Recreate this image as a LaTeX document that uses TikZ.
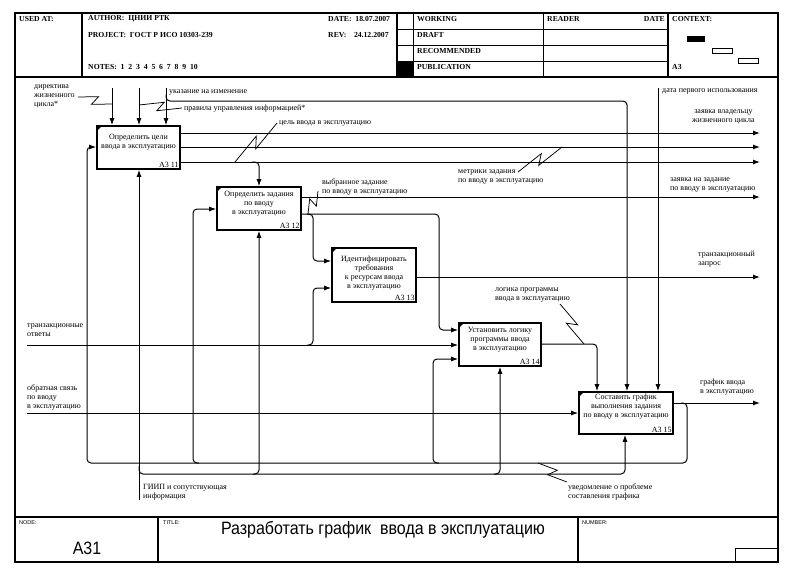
\documentclass[tikz,border=0pt]{standalone}
\usepackage{fontspec}
\setmainfont{Liberation Serif}
\newfontfamily\sansf{Liberation Sans}
\usetikzlibrary{arrows.meta,calc}
\newcommand{\squig}[2]{\draw[sq] (#1) -- ($(#1)!0.58!(#2)!4.5pt!90:(#2)$) -- ($(#1)!0.42!(#2)!4.5pt!-90:(#2)$) -- (#2);}
\newcommand{\cornermark}[1]{\fill ([shift={(0.8pt,-0.8pt)}]#1.north west) -- ++(5pt,0) -- ++(-5pt,-5pt) -- cycle;}
\begin{document}
\begin{tikzpicture}[x=1pt,y=-1pt,
  frame/.style={line width=1.3pt},
  thinl/.style={line width=0.6pt},
  hdr/.style={font=\bfseries\fontsize{7.7}{8}\selectfont, inner sep=0, anchor=west},
  ftr/.style={font=\sansf\fontsize{5.5}{6}\selectfont, inner sep=0, anchor=west},
  lbl/.style={font=\fontsize{8}{8.7}\selectfont, inner sep=0, anchor=north west, align=left, execute at begin node=\strut},
  box/.style={draw, line width=1.7pt, inner sep=0},
  boxtxt/.style={font=\fontsize{8}{9}\selectfont, inner sep=0, anchor=north, align=center, execute at begin node=\strut},
  num/.style={font=\fontsize{8}{9}\selectfont, inner sep=0, anchor=south east},
  arr/.style={line width=1pt, rounded corners=4pt, -{Latex[length=7pt,width=5pt]}},
  sq/.style={line width=0.75pt}]
\useasboundingbox (0,0) rectangle (790,574);
\fill[white] (0,0) rectangle (790,574);
% ---------- frame ----------
\draw[frame] (15,13) rectangle (778,562);
\draw[frame] (15,77) -- (778,77);
\draw[frame] (15,517) -- (778,517);
% header columns
\draw[frame] (82,13) -- (82,77);
\draw[frame] (397,13) -- (397,77);
\draw[thinl] (413,13) -- (413,77);
\draw[thinl] (543,13) -- (543,77);
\draw[frame] (668,13) -- (668,77);
\draw[thinl] (397,29) -- (668,29);
\draw[thinl] (397,45) -- (668,45);
\draw[thinl] (397,61) -- (668,61);
\fill (397,61) rectangle (413,77);
% header texts
\node[hdr] (usedat) at (19,19) {USED AT:};
\node[hdr] (author) at (88,19) {AUTHOR:\ \ ЦНИИ РТК};
\node[hdr] (date) at (328,19) {DATE:\ \ 18.07.2007};
\node[hdr] (project) at (88,35) {PROJECT:\ \ ГОСТ Р ИСО 10303-239};
\node[hdr] (rev) at (328,35) {REV:\ \ \ \ 24.12.2007};
\node[hdr] (notes) at (88,67) {NOTES:\ \ 1\ \ 2\ \ 3\ \ 4\ \ 5\ \ 6\ \ 7\ \ 8\ \ 9\ \ 10};
\node[hdr] (working) at (417,19) {WORKING};
\node[hdr] (draft) at (417,35) {DRAFT};
\node[hdr] (recom) at (417,51) {RECOMMENDED};
\node[hdr] (publ) at (417,67) {PUBLICATION};
\node[hdr] (reader) at (547,19) {READER};
\node[hdr, anchor=east] (rdate) at (665,19) {DATE};
\node[hdr] (context) at (672,19) {CONTEXT:};
\node[hdr] (ctxa) at (672,67) {A3};
\fill (687,36) rectangle (705,42);
\draw[line width=0.8pt] (712,48) rectangle (732,53);
\draw[line width=0.8pt] (738,58) rectangle (758,63);
% footer
\draw[frame] (158,517) -- (158,562);
\draw[frame] (578,517) -- (578,562);
\draw[thinl] (735,562) -- (735,548) -- (778,548);
\node[ftr] (node) at (19,523) {NODE:};
\node[ftr] (title) at (163,523) {TITLE:};
\node[ftr] (number) at (582,523) {NUMBER:};
\node[font=\sansf\fontsize{16}{18}\selectfont, inner sep=0, yscale=1.12] (ttl) at (383,530) {Разработать график\ \ ввода в эксплуатацию};
\node[font=\sansf\fontsize{16}{18}\selectfont, inner sep=0, yscale=1.12] (a31) at (87,548) {A31};
% ---------- boxes ----------
\node[box, minimum width=83pt, minimum height=43pt] (b1) at (138.5,147.5) {};
\node[box, minimum width=84pt, minimum height=43pt] (b2) at (259,208.5) {};
\node[box, minimum width=84pt, minimum height=54pt] (b3) at (374,275) {};
\node[box, minimum width=82pt, minimum height=43pt] (b4) at (500,344.5) {};
\node[box, minimum width=94pt, minimum height=42pt] (b5) at (626,413) {};
\foreach \b in {b1,b2,b3,b4,b5} {\cornermark{\b}}
\node[boxtxt] (t1) at (138.5,134) {Определить цели\\ввода в эксплуатацию};
\node[boxtxt] (t2) at (259,190.5) {Определить задания\\по вводу\\в эксплуатацию};
\node[boxtxt] (t3) at (374,255.5) {Идентифицировать\\требования\\к ресурсам ввода\\в эксплуатацию};
\node[boxtxt] (t4) at (500,327.5) {Установить логику\\программы ввода\\в эксплуатацию};
\node[boxtxt] (t5) at (626,393.5) {Составить график\\выполнения задания\\по вводу в эксплуатацию};
\node[num] (n1) at ([shift={(-2pt,2pt)}]b1.south east) {А3 11};
\node[num] (n2) at ([shift={(-2pt,2pt)}]b2.south east) {А3 12};
\node[num] (n3) at ([shift={(-2pt,2pt)}]b3.south east) {А3 13};
\node[num] (n4) at ([shift={(-2pt,2pt)}]b4.south east) {А3 14};
\node[num] (n5) at ([shift={(-2pt,2pt)}]b5.south east) {А3 15};
% ---------- free ends ----------
\coordinate (in1) at (112,88);
\coordinate (in2) at (139,88);
\coordinate (in3) at (166,88);
\coordinate (in4) at (658,88);
\coordinate (mech) at (139,500);
\coordinate (ta) at (27,345);
\coordinate (fb) at (27,413);
\coordinate (e1) at (760,133);
\coordinate (e2) at (760,147);
\coordinate (e3) at (760,162);
\coordinate (e4) at (760,197);
\coordinate (e5) at (760,277);
\coordinate (e6) at (760,403);
% ---------- connectors ----------
\draw[arr] (in1) -- (b1.north -| in1);
\draw[arr] (in2) -- (b1.north -| in2);
\draw[arr] (in3) -- (b1.north -| in3);
\draw[arr] (166,95) -- (166,101) -- (627,101) -- (b5.north -| 627,0);
\draw[arr] (in4) -- (b5.north -| in4);
\draw[arr] (b1.east |- e1) -- (e1);
\draw[arr] (b1.east |- e2) -- (e2);
\draw[arr] (b1.east |- e3) -- (e3);
\draw[arr] (252,162) -- (b2.north |- e3) -- (b2.north);
\draw[arr] (mech) -- (b1.south -| mech);
\draw[arr] (b5.east |- e6) -- (e6);
\draw[arr] (681,403) -- (687,403) -- (687,463) -- (87,463) -- (87,147) -- (b1.west |- e2);
\draw[arr] (139,466) -- (139,474) -- (625,474) -- (b5.south -| 625,0);
\draw[arr] (199,463) -- (193,463) -- (193,209) -- (b2.west |- 0,209);
\draw[arr] (253,474) -- (b2.south |- 0,474) -- (b2.south);
\draw[arr] (b2.east |- e4) -- (e4);
\draw[arr] (b2.east |- 0,214) -- (439,214) -- (439,330) -- (b4.west |- 0,330);
\draw[arr] (307,214) -- (313,214) -- (313,261) -- (b3.west |- 0,261);
\draw[arr] (307,345) -- (313,345) -- (313,288) -- (b3.west |- 0,288);
\draw[arr] (b3.east |- e5) -- (e5);
\draw[arr] (ta) -- (b4.west |- ta);
\draw[arr] (439,463) -- (433,463) -- (433,359) -- (b4.west |- 0,359);
\draw[arr] (494,474) -- (b4.south |- 0,474) -- (b4.south);
\draw[arr] (b4.east |- 0,344) -- (597,344) -- (b5.north -| 597,0);
\draw[arr] (fb) -- (b5.west |- fb);
% ---------- labels ----------
\node[lbl] (l1) at (34,85) {директива\\жизненного\\цикла*};
\node[lbl] (l2) at (169,87) {указание на изменение};
\node[lbl] (l3) at (184,104) {правила управления информацией*};
\node[lbl] (l4) at (279,118) {цель ввода в эксплуатацию};
\node[lbl] (l5) at (662,86) {дата первого использования};
\node[lbl, align=center] (l6) at (692,110) {заявка владельцу\\жизненного цикла};
\node[lbl] (l7) at (458,170) {метрики задания\\по вводу в эксплуатацию};
\node[lbl] (l8) at (670,178) {заявка на задание\\по вводу в эксплуатацию};
\node[lbl] (l9) at (322,179) {выбранное задание\\по вводу в эксплуатацию};
\node[lbl] (l10) at (698,251) {транзакционный\\запрос};
\node[lbl] (l11) at (495,288) {логика программы\\ввода в эксплуатацию};
\node[lbl] (l12) at (27,324) {транзакционные\\ответы};
\node[lbl] (l13) at (27,385) {обратная связь\\по вводу\\в эксплуатацию};
\node[lbl] (l14) at (700,379) {график ввода\\в эксплуатацию};
\node[lbl] (l15) at (568,484) {уведомление о проблеме\\составления графика};
\node[lbl] (l16) at (143,484) {ГИИП и сопутствующая\\информация};
% ---------- squiggles ----------
\squig{78,97}{112,104}
\squig{182,108}{139,105}
\squig{277,123}{235,162}
\squig{518,172}{562,147}
\squig{318,191}{308,214}
\squig{560,304}{584,344}
\squig{567,482}{538,463}
\end{tikzpicture}
\end{document}
